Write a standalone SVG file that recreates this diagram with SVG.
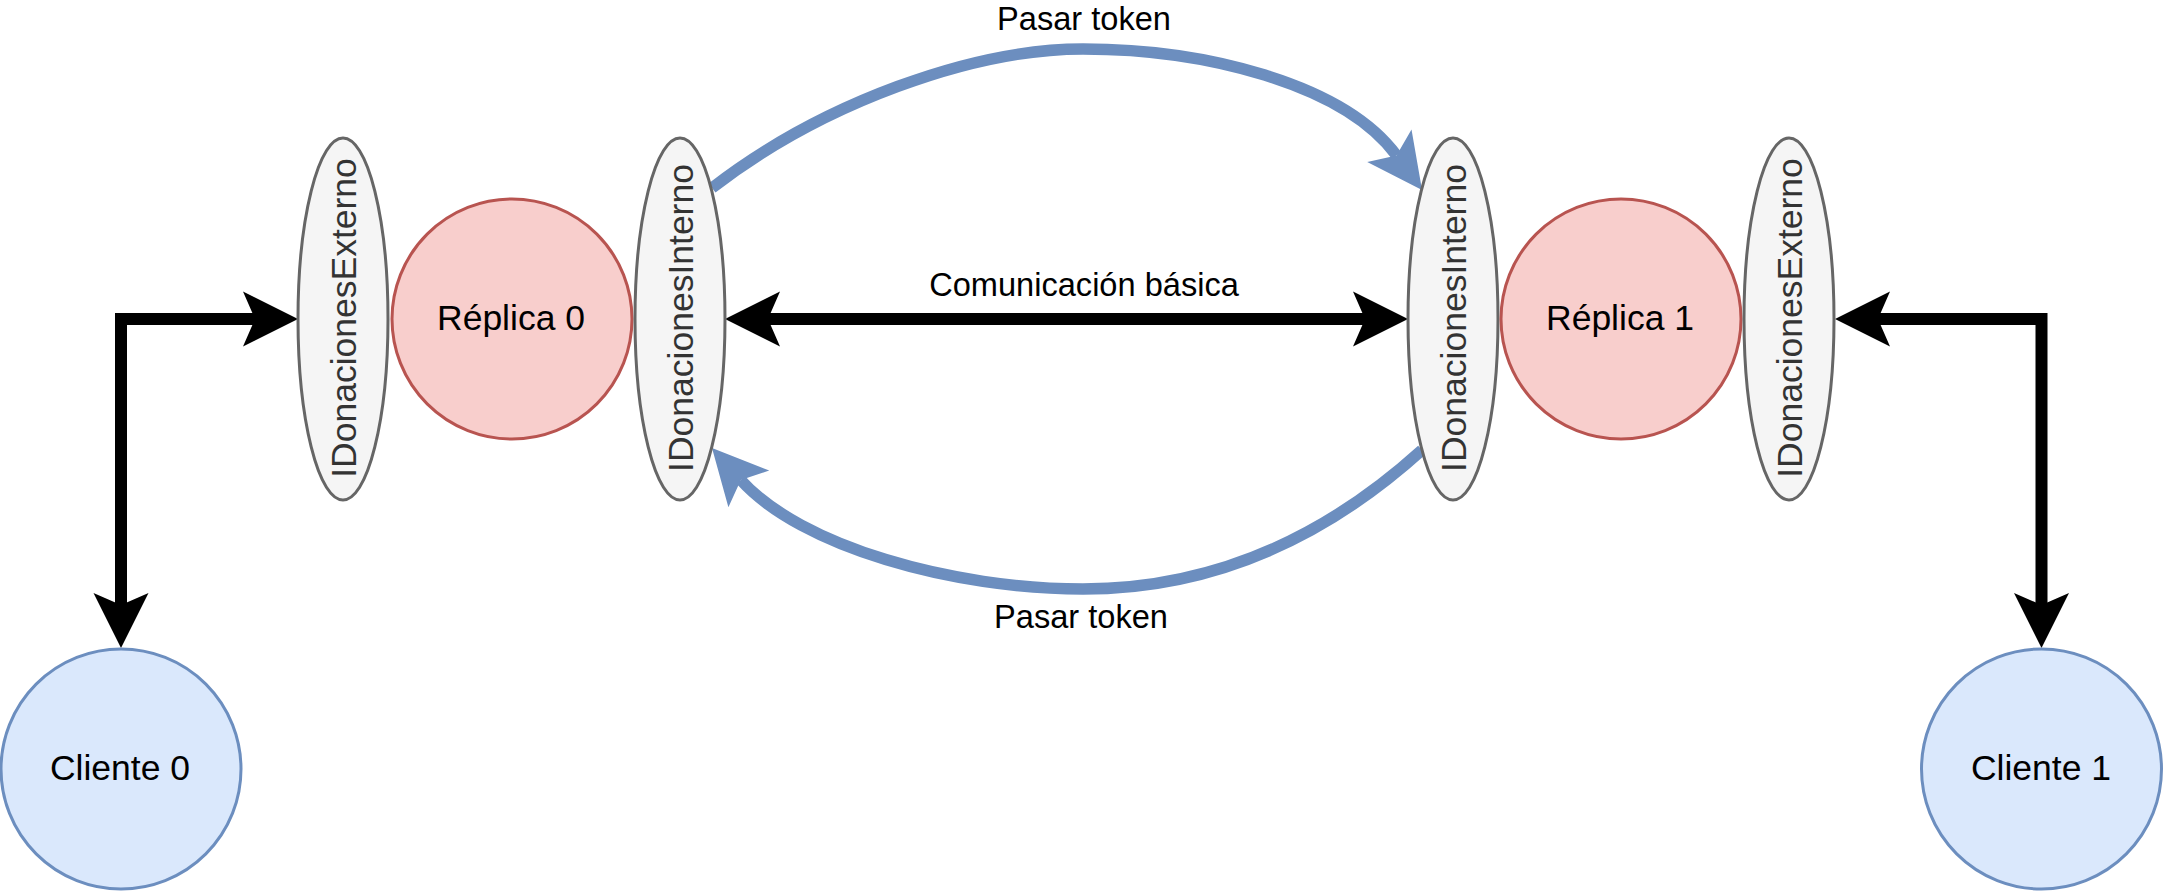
<svg xmlns="http://www.w3.org/2000/svg" width="2163" height="891" viewBox="0 0 2163 891">
  <style>
    .lbl { font-family: "Liberation Sans", Arial, Helvetica, sans-serif; }
    .node-txt { font-size: 35.5px; fill: #000000; text-anchor: middle; }
    .port-txt { font-size: 35.5px; fill: #333333; text-anchor: middle; }
    .edge-txt { font-size: 32.6px; fill: #000000; text-anchor: middle; }
    .port { fill: #f5f5f5; stroke: #666666; stroke-width: 3; }
    .replica { fill: #f8cecc; stroke: #b85450; stroke-width: 3; }
    .cliente { fill: #dae8fc; stroke: #6c8ebf; stroke-width: 3; }
    .black-edge { fill: none; stroke: #000000; stroke-width: 12; stroke-linejoin: miter; marker-start: url(#arrBlack); marker-end: url(#arrBlack); }
    .blue-edge { fill: none; stroke: #6c8ebf; stroke-width: 11.5; marker-end: url(#arrBlue); }
  </style>
  <defs>
    <marker id="arrBlack" markerUnits="userSpaceOnUse" markerWidth="60" markerHeight="60" refX="0" refY="0" orient="auto-start-reverse" overflow="visible">
      <polygon points="-12,-27.5 43,0 -12,27.5 0,0" fill="#000000"/>
    </marker>
    <marker id="arrBlue" markerUnits="userSpaceOnUse" markerWidth="60" markerHeight="60" refX="0" refY="0" orient="auto" overflow="visible">
      <polygon points="-12,-27.5 43,0 -12,27.5 0,0" fill="#6c8ebf"/>
    </marker>
  </defs>

  <g id="connectors">
    <path id="e-cliente0" class="black-edge" d="M121,605 L121,319 L255,319"/>
    <path id="e-cliente1" class="black-edge" d="M2041.5,605 L2041.5,319 L1878,319"/>
    <path id="e-basica" class="black-edge" d="M768,319 L1365,319"/>
    <path id="e-token-top" class="blue-edge" d="M712,188 C822.6,102.6 973,49 1083,49 C1203,49 1343.1,83 1396.5,155.4"/>
    <path id="e-token-bottom" class="blue-edge" d="M1422,450 C1325.8,537.1 1213,589 1083,589 C953,589 801.1,546.9 740.8,480"/>
    <text class="lbl edge-txt" x="1084" y="30">Pasar token</text>
    <text class="lbl edge-txt" x="1084" y="296">Comunicación básica</text>
    <text class="lbl edge-txt" x="1081" y="628">Pasar token</text>
  </g>

  <g id="ext0">
    <ellipse class="port" cx="343" cy="319" rx="45" ry="181"/>
    <text class="lbl port-txt" transform="translate(355.5 318) rotate(-90)" x="0" y="0">IDonacionesExterno</text>
  </g>
  <g id="replica0">
    <circle class="replica" cx="512" cy="319" r="120"/>
    <text class="lbl node-txt" x="511" y="330">Réplica 0</text>
  </g>
  <g id="int0">
    <ellipse class="port" cx="680" cy="319" rx="45" ry="181"/>
    <text class="lbl port-txt" transform="translate(692.5 318) rotate(-90)" x="0" y="0">IDonacionesInterno</text>
  </g>
  <g id="int1">
    <ellipse class="port" cx="1453" cy="319" rx="45" ry="181"/>
    <text class="lbl port-txt" transform="translate(1465.5 318) rotate(-90)" x="0" y="0">IDonacionesInterno</text>
  </g>
  <g id="replica1">
    <circle class="replica" cx="1621" cy="319" r="120"/>
    <text class="lbl node-txt" x="1620" y="330">Réplica 1</text>
  </g>
  <g id="ext1">
    <ellipse class="port" cx="1789" cy="319" rx="45" ry="181"/>
    <text class="lbl port-txt" transform="translate(1801.5 318) rotate(-90)" x="0" y="0">IDonacionesExterno</text>
  </g>
  <g id="cliente0">
    <circle class="cliente" cx="121" cy="769" r="120"/>
    <text class="lbl node-txt" x="120" y="780">Cliente 0</text>
  </g>
  <g id="cliente1">
    <circle class="cliente" cx="2041.5" cy="769" r="120"/>
    <text class="lbl node-txt" x="2041" y="780">Cliente 1</text>
  </g>
</svg>
